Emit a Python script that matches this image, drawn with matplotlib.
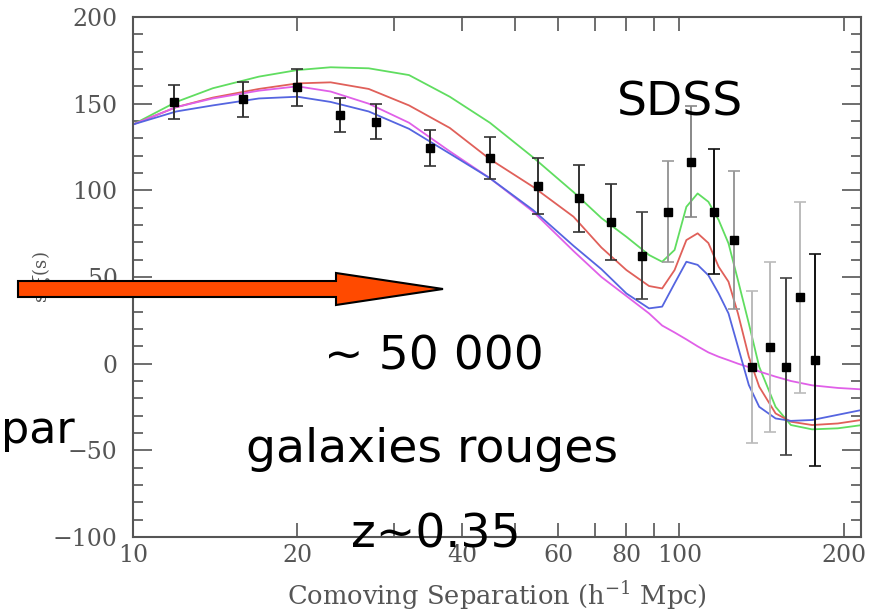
import matplotlib
matplotlib.use('Agg')
import matplotlib.pyplot as plt
from matplotlib.patches import Polygon
from matplotlib.ticker import FixedLocator, MultipleLocator, NullFormatter

plt.rcParams['font.family'] = 'DejaVu Serif'
plt.rcParams['mathtext.fontset'] = 'dejavuserif'

# measured points (SDSS LRG correlation function)
sep = [11.9, 15.9, 20.0, 23.9, 27.9, 35.0, 45.0, 55.2, 65.5, 75.1,
       85.4, 95.3, 105.2, 115.8, 125.9, 136.0, 146.4, 156.6, 166.5, 176.8]
xi_s2 = [151, 152.5, 159.4, 143.4, 139.6, 124.2, 118.5, 102.5, 95.4, 81.9,
         62.3, 87.7, 116.5, 87.7, 71.3, -1.8, 9.8, -1.8, 38.3, 2.1]
xi_err = [10, 10, 10.5, 10, 10, 10.4, 12, 16, 19.5, 22,
          25, 29, 32, 36, 40, 44, 49, 51, 55, 61]
bar_shade = ['#333333'] * 10 + ['#444444', '#999999', '#888888', '#111111', '#999999',
                                '#bbbbbb', '#bbbbbb', '#444444', '#bbbbbb', '#111111']

# model curves
model_x = [10, 12, 14, 17, 20, 23, 27, 32, 38, 45, 54, 64, 72, 80, 88, 93, 98,
           103, 108, 113, 118, 123, 128, 134, 140, 150, 160, 175, 195, 215]
green_y = [138, 151, 158.9, 165.6, 169.4, 171, 170.4, 166.5, 154, 139, 119, 99, 84,
           73.2, 62.7, 58.8, 65.6, 90.5, 98.2, 93.4, 82.9, 69.4, 48.2, 23.2, -1.8,
           -24.9, -35.4, -37.9, -37.3, -35.5]
red_y = [138, 148, 153.5, 158.5, 161.7, 162.3, 158.5, 149, 136, 118, 102, 84.8, 67,
         54, 44.8, 43.4, 54, 71.3, 75.2, 69.6, 55.9, 47.3, 29, 4, -13.3,
         -28.7, -33.5, -35.4, -34.5, -32.5]
blue_y = [138, 145.5, 149, 153, 154, 151, 145.5, 135.5, 121.2, 107, 88.6, 68, 54.5,
          40.5, 31.9, 32.9, 46.3, 58.8, 57, 51, 40.5, 29, 9.8, -12.3, -24.9,
          -31.6, -33, -32.5, -29.5, -26.8]
magenta_y = [138, 148, 153, 157.5, 160, 157, 150, 139, 122.5, 107, 87.7, 65, 50,
             39, 29, 22, 18, 14, 10, 6.5, 4, 2, 0, -2, -4.5,
             -7.5, -10, -12.5, -14, -14.8]

xtick_vals = [10, 20, 40, 60, 80, 100, 200]
xtick_labels = ['10', '20', '40', '60', '80', '100', '200']

fig = plt.figure(figsize=(8.73, 6.13), dpi=100)
ax = fig.add_axes([133/873, 1 - 537/613, 728/873, 520/613])

ax.plot(model_x, green_y, color='#60dd60', lw=1.3)
ax.plot(model_x, red_y, color='#e0605a', lw=1.3)
ax.plot(model_x, magenta_y, color='#e060e8', lw=1.3)
ax.plot(model_x, blue_y, color='#5565e0', lw=1.3)

for sx, yy, ee, c in zip(sep, xi_s2, xi_err, bar_shade):
    ax.errorbar(sx, yy, yerr=ee, fmt='s', color='black', ms=6,
                ecolor=c, elinewidth=1.4, capsize=4, capthick=1.2)

ax.set_xscale('log')
ax.set_xlim(10, 215)
ax.set_ylim(-100, 200)

ax.xaxis.set_major_locator(FixedLocator(xtick_vals))
ax.set_xticklabels(xtick_labels)
ax.xaxis.set_minor_locator(FixedLocator([30, 50, 70, 90]))
ax.xaxis.set_minor_formatter(NullFormatter())
ax.yaxis.set_major_locator(MultipleLocator(50))
ax.yaxis.set_minor_locator(MultipleLocator(10))

ax.tick_params(which='both', direction='in', top=True, right=True,
               color='#555555', labelcolor='#555555', labelsize=17)
ax.tick_params(axis='y', which='major', length=14, width=1.2, pad=11)
ax.tick_params(axis='y', which='minor', length=7, width=1.2)
ax.tick_params(axis='x', which='both', length=10, width=1.2, pad=5)
for sp in ax.spines.values():
    sp.set_color('#555555')
    sp.set_linewidth(1.5)

ax.set_xlabel('Comoving Separation (h$^{-1}$ Mpc)', fontsize=18.5, color='#555555', labelpad=9)
ax.set_ylabel(r's$^2\xi$(s)', fontsize=13, color='#555555')
ax.yaxis.set_label_coords(-0.108, 0.5)

# slide annotations
tfont = dict(family='DejaVu Sans', fontsize=34, color='black', va='baseline', ha='center')
fig.text(680/873, 1 - 115/613, 'SDSS', **tfont)
fig.text(434/873, 1 - 370/613, '~ 50 000', **tfont)
fig.text(432/873, 1 - 462/613, 'galaxies rouges', **tfont)
fig.text(436/873, 1 - 548/613, 'z~0.35', **tfont)
fig.text(1/873, 1 - 443/613, 'par', family='DejaVu Sans', fontsize=32,
         color='black', va='baseline', ha='left')

arrow_px = [(18, 281), (336, 281), (336, 273), (443, 289),
            (336, 305), (336, 297), (18, 297)]
arrow = Polygon([(px / 873, 1 - py / 613) for px, py in arrow_px], closed=True,
                transform=fig.transFigure, facecolor='#ff4a00', edgecolor='black', lw=1.5)
fig.patches.append(arrow)

fig.savefig('out.png', dpi=100)
